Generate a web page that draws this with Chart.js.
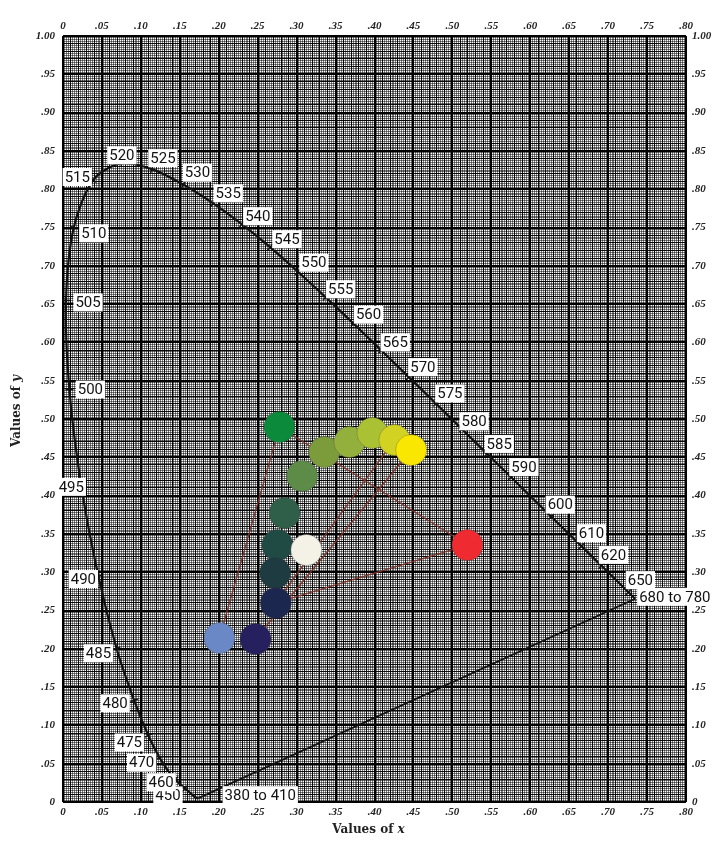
<!DOCTYPE html>
<html>
<head>
<meta charset="utf-8">
<title>Chromaticity diagram</title>
<script src="https://cdn.jsdelivr.net/npm/chart.js@4.4.1/dist/chart.umd.min.js"></script>
<style>
  html, body { margin: 0; padding: 0; background: #fff; }
  #wrap { width: 722px; height: 845px; position: relative; }
</style>
</head>
<body>
<div id="wrap"><canvas id="chart" width="722" height="845"></canvas></div>
<script>
// ---- Spectral locus (wavelength in nm, chromaticity x, y) ----
const locusNm = [380, 410, 420, 430, 440, 445, 450, 455, 460, 465, 470, 475, 480, 485, 490, 495, 500, 505, 510, 515, 520, 525, 530, 535, 540, 545, 550, 555, 560, 565, 570, 575, 580, 585, 590, 595, 600, 605, 610, 615, 620, 625, 630, 640, 650, 660, 680];
const locusX = [0.1741, 0.1733, 0.1714, 0.1689, 0.1644, 0.1611, 0.1566, 0.1510, 0.1440, 0.1355, 0.1241, 0.1096, 0.0913, 0.0687, 0.0454, 0.0235, 0.0082, 0.0039, 0.0139, 0.0389, 0.0743, 0.1142, 0.1547, 0.1929, 0.2296, 0.2658, 0.3016, 0.3373, 0.3731, 0.4087, 0.4441, 0.4788, 0.5125, 0.5448, 0.5752, 0.6029, 0.6270, 0.6482, 0.6658, 0.6801, 0.6915, 0.7006, 0.7079, 0.7190, 0.7260, 0.7300, 0.7347];
const locusY = [0.0050, 0.0048, 0.0051, 0.0069, 0.0109, 0.0138, 0.0177, 0.0227, 0.0297, 0.0399, 0.0578, 0.0868, 0.1327, 0.2007, 0.2950, 0.4127, 0.5384, 0.6548, 0.7502, 0.8120, 0.8338, 0.8262, 0.8059, 0.7816, 0.7543, 0.7243, 0.6923, 0.6589, 0.6245, 0.5896, 0.5547, 0.5202, 0.4866, 0.4544, 0.4242, 0.3965, 0.3725, 0.3514, 0.3340, 0.3197, 0.3083, 0.2993, 0.2920, 0.2809, 0.2740, 0.2700, 0.2653];

// ---- Wavelengths marked along the locus ----
const markNm   = [380, 450, 460, 470, 475, 480, 485, 490, 495, 500, 505, 510, 515, 520, 525, 530, 535, 540, 545, 550, 555, 560, 565, 570, 575, 580, 585, 590, 600, 610, 620, 650, 680];
const markText = ['380 to 410', '450', '460', '470', '475', '480', '485', '490', '495', '500', '505', '510', '515', '520', '525', '530', '535', '540', '545', '550', '555', '560', '565', '570', '575', '580', '585', '590', '600', '610', '620', '650', '680 to 780'];

// ---- Colour samples (chromaticity x, y) ----
const sampleX = [0.2779, 0.3355, 0.3678, 0.3973, 0.4256, 0.4471, 0.3070, 0.2846, 0.2753, 0.3125, 0.2724, 0.2733, 0.2009, 0.2472, 0.5193];
const sampleY = [0.4896, 0.4569, 0.4700, 0.4817, 0.4726, 0.4595, 0.4256, 0.3773, 0.3355, 0.3290, 0.2990, 0.2598, 0.2141, 0.2128, 0.3355];
const sampleFill = ['#0c8a3c', '#7c9c3c', '#93b03c', '#a9c132', '#d2d222', '#f9e702', '#5c8c48', '#2f5f49', '#204b45', '#f4f2e6', '#1d3b41', '#1c2750', '#6a88c6', '#26215e', '#ef2b31'];

// ---- Threads joining pairs of samples (indices into the sample arrays) ----
const threadFrom = [0, 0, 5, 4, 14];
const threadTo   = [12, 14, 13, 11, 11];

// ---- Axis tick labels ----
const xTickText = ['0', '.05', '.10', '.15', '.20', '.25', '.30', '.35', '.40', '.45', '.50', '.55', '.60', '.65', '.70', '.75', '.80'];
const yTickText = ['0', '.05', '.10', '.15', '.20', '.25', '.30', '.35', '.40', '.45', '.50', '.55', '.60', '.65', '.70', '.75', '.80', '.85', '.90', '.95', '1.00'];

// Label placement beside each mark: [dx, dy] in px from the locus point (box centre),
// or box left edge for the two range labels.
const markOffset = {
  380: [26, -3, 'left'], 450: [-17, 7], 460: [-14, 3], 470: [-18, 5], 475: [-19, 7], 480: [-19, 3],
  485: [-18, 5], 490: [-15, 3], 495: [-10, 1], 500: [21, 0], 505: [22, 2], 510: [20, 6],
  515: [-16, -3], 520: [1, -8], 525: [11, -11], 530: [14, -12], 535: [15, -10], 540: [16, -8],
  545: [17, -8], 550: [16, -9], 555: [15, -8], 560: [15, -9], 565: [14, -8], 570: [14, -10],
  575: [14, -10], 580: [12, -8], 585: [12, -10], 590: [13, -10], 600: [9, -12], 610: [10, -13],
  620: [12, -11], 650: [12, -12], 680: [4, -2, 'left']
};

// ---- Datasets ----
const locusPoints = locusNm.map((_, i) => ({ x: locusX[i], y: locusY[i] }));
const purpleLine = [
  { x: locusX[0], y: locusY[0] },
  { x: locusX[locusX.length - 1], y: locusY[locusY.length - 1] }
];
const samplePoints = sampleX.map((x, i) => ({ x, y: sampleY[i] }));

const datasets = [];
threadFrom.forEach((a, i) => {
  const b = threadTo[i];
  datasets.push({
    type: 'scatter', showLine: true, order: 2,
    data: [{ x: sampleX[a], y: sampleY[a] }, { x: sampleX[b], y: sampleY[b] }],
    borderColor: 'rgba(125,50,40,0.95)', borderWidth: 1.3, pointRadius: 0
  });
});
datasets.push({
  type: 'scatter', showLine: true, order: 3, data: locusPoints,
  borderColor: '#111', borderWidth: 2.2, pointRadius: 0, tension: 0.3
});
datasets.push({
  type: 'scatter', showLine: true, order: 3, data: purpleLine,
  borderColor: '#111', borderWidth: 1.8, pointRadius: 0
});
datasets.push({
  type: 'scatter', order: 0, data: samplePoints,
  backgroundColor: sampleFill, borderColor: 'rgba(60,60,60,0.35)', borderWidth: 0.8,
  pointRadius: 15.5, pointHoverRadius: 15.5
});

// ---- Graph-paper rulings ----
function ruleKind(v) {
  const u = Math.round(v * 2000);      // units of 0.0005
  if (u % 100 === 0) return 2;          // every .05
  if (u % 20 === 0) return 1;           // every .01
  return 0;
}
const gridOpts = {
  drawTicks: false,
  color: (c) => ['rgba(0,0,0,0.5)', 'rgba(0,0,0,0.95)', '#000'][ruleKind(c.tick ? c.tick.value : 0)],
  lineWidth: (c) => [1, 1, 2][ruleKind(c.tick ? c.tick.value : 0)]
};
const tickFont = { family: '"Liberation Serif", "Times New Roman", serif', size: 11, style: 'italic', weight: 'bold' };

const paperPlugin = {
  id: 'paper',
  beforeDraw(chart) {
    const { ctx, width, height } = chart;
    ctx.save();
    ctx.fillStyle = '#fff';
    ctx.fillRect(0, 0, width, height);
    ctx.restore();
  }
};

const markPlugin = {
  id: 'wavelengthMarks',
  afterDatasetsDraw(chart) {
    const { ctx } = chart;
    const sx = chart.scales.x, sy = chart.scales.y;
    const P = (i) => [sx.getPixelForValue(locusX[i]), sy.getPixelForValue(locusY[i])];
    ctx.save();
    ctx.font = '15px Roboto, "DejaVu Sans", sans-serif';
    ctx.textBaseline = 'middle';
    markNm.forEach((nm, m) => {
      const k = locusNm.indexOf(nm);
      const [px, py] = P(k);
      // short cross-mark on the curve
      const a = P(Math.max(0, k - 1)), b = P(Math.min(locusNm.length - 1, k + 1));
      let tx = b[0] - a[0], ty = b[1] - a[1];
      const len = Math.hypot(tx, ty) || 1;
      const nx = -ty / len, ny = tx / len;
      if (nm !== 380 && nm !== 680) {
        ctx.strokeStyle = '#111';
        ctx.lineWidth = 1.4;
        ctx.beginPath();
        ctx.moveTo(px - nx * 4, py - ny * 4);
        ctx.lineTo(px + nx * 4, py + ny * 4);
        ctx.stroke();
      }
      const off = markOffset[nm];
      const text = markText[m];
      const w = ctx.measureText(text).width;
      const cy = py + off[1];
      const left = off[2] === 'left' ? px + off[0] : px + off[0] - w / 2;
      ctx.fillStyle = '#fff';
      ctx.fillRect(left - 2, cy - 9, w + 4, 18);
      ctx.fillStyle = '#111';
      ctx.fillText(text, left, cy + 1);
    });
    ctx.restore();
  }
};

const titlePlugin = {
  id: 'axisTitles',
  afterDraw(chart) {
    const { ctx, chartArea } = chart;
    const drawTitle = (cx, cy, rot) => {
      ctx.save();
      ctx.translate(cx, cy);
      ctx.rotate(rot);
      ctx.fillStyle = '#222';
      ctx.textBaseline = 'middle';
      const fA = 'bold 12px "DejaVu Serif", "Liberation Serif", serif';
      const fB = 'italic bold 12px "DejaVu Serif", "Liberation Serif", serif';
      ctx.font = fA; const wA = ctx.measureText('Values of ').width;
      ctx.font = fB; const wB = ctx.measureText(rot ? 'y' : 'x').width;
      const x0 = -(wA + wB) / 2;
      ctx.font = fA; ctx.fillText('Values of ', x0, 0);
      ctx.font = fB; ctx.fillText(rot ? 'y' : 'x', x0 + wA, 0);
      ctx.restore();
    };
    drawTitle((chartArea.left + chartArea.right) / 2 - 6, 830, 0);
    drawTitle(17, 411, -Math.PI / 2);
  }
};

new Chart(document.getElementById('chart'), {
  type: 'scatter',
  data: { datasets },
  plugins: [paperPlugin, markPlugin, titlePlugin],
  options: {
    responsive: false,
    animation: false,
    devicePixelRatio: 1,
    layout: { padding: 0 },
    plugins: { legend: { display: false }, tooltip: { enabled: false } },
    events: [],
    scales: {
      x: {
        type: 'linear', position: 'bottom', min: 0, max: 0.8,
        grid: gridOpts, border: { display: false },
        ticks: {
          stepSize: 0.0025, autoSkip: false, maxRotation: 0, padding: 4,
          font: tickFont, color: '#222',
          callback: (v) => { const u = Math.round(v * 2000); return u % 100 === 0 ? xTickText[u / 100] : ''; }
        },
        afterFit: (s) => { s.height = 43; }
      },
      xTop: {
        type: 'linear', position: 'top', min: 0, max: 0.8,
        grid: { display: false, drawTicks: false }, border: { display: false },
        ticks: {
          stepSize: 0.05, autoSkip: false, maxRotation: 0, padding: 3,
          font: tickFont, color: '#222',
          callback: (v) => xTickText[Math.round(v * 20)]
        },
        afterFit: (s) => { s.height = 36; }
      },
      y: {
        type: 'linear', position: 'left', min: 0, max: 1,
        grid: gridOpts, border: { display: false },
        ticks: {
          stepSize: 0.0025, autoSkip: false, padding: 8,
          font: tickFont, color: '#222',
          callback: (v) => { const u = Math.round(v * 2000); return u % 100 === 0 ? yTickText[u / 100] : ''; }
        },
        afterFit: (s) => { s.width = 63; }
      },
      yRight: {
        type: 'linear', position: 'right', min: 0, max: 1,
        grid: { display: false, drawTicks: false }, border: { display: false },
        ticks: {
          stepSize: 0.05, autoSkip: false, padding: 6,
          font: tickFont, color: '#222',
          callback: (v) => yTickText[Math.round(v * 20)]
        },
        afterFit: (s) => { s.width = 36; }
      }
    }
  }
});
</script>
</body>
</html>
